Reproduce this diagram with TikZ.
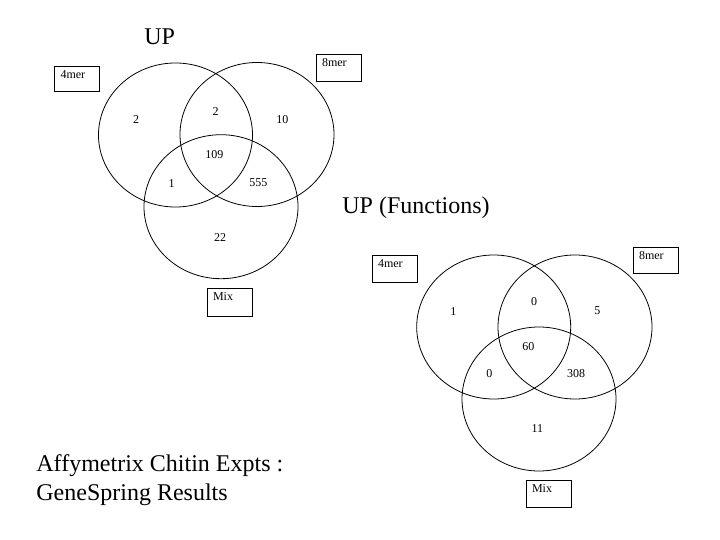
\documentclass[tikz,border=0pt]{standalone}
\usepackage{fontspec}
\setmainfont{Liberation Serif}
\usetikzlibrary{shapes.geometric}
\begin{document}
\begin{tikzpicture}[x=1pt,y=-1pt,line width=0.8pt,
  venn/.style={draw, ellipse, minimum width=154pt, minimum height=144pt, inner sep=0pt},
  num/.style={font=\fontsize{12}{14}\selectfont, inner sep=0pt},
  setbox/.style={draw, minimum width=45pt, minimum height=#1, inner sep=0pt},
  boxtext/.style={anchor=north west, inner sep=0pt, xshift=6pt, yshift=-5pt, font=\fontsize{12}{14}\selectfont},
  title/.style={font=\fontsize{24}{28}\selectfont, inner sep=0pt, anchor=base west}]
\useasboundingbox (0,0) rectangle (720,540);

% ---- UP ----
\node[title] (t1) at (144,45) {UP};
\node[venn] (a4) at (175.5,135) {};
\node[venn] (a8) at (257,134.5) {};
\node[venn] (am) at (221,206.7) {};
\node[setbox=25pt, label={[boxtext]north west:4mer}] (b4) at (77,78.5) {};
\node[setbox=27pt, label={[boxtext]north west:8mer}] (b8) at (338.5,67.5) {};
\node[setbox=28pt, label={[boxtext]north west:Mix}] (bm) at (229.5,302) {};
\node[num] (n1) at (136,120) {2};
\node[num] (n2) at (215.7,111.7) {2};
\node[num] (n3) at (282.3,119.3) {10};
\node[num] (n4) at (214.3,155) {109};
\node[num] (n5) at (171.7,183.3) {1};
\node[num] (n6) at (258.3,182.3) {555};
\node[num] (n7) at (220,237.3) {22};

% ---- UP (Functions) ----
\node[title] (t2) at (342,214) {UP (Functions)};
\node[venn] (c4) at (493.7,327) {};
\node[venn] (c8) at (575,327) {};
\node[venn] (cm) at (539,399) {};
\node[setbox=27pt, label={[boxtext]north west:4mer}] (d4) at (394.5,268.5) {};
\node[setbox=26pt, label={[boxtext]north west:8mer}] (d8) at (655.5,260) {};
\node[setbox=27pt, label={[boxtext]north west:Mix}] (dm) at (548.5,493.5) {};
\node[num] (m1) at (453.3,311.7) {1};
\node[num] (m2) at (534,301.7) {0};
\node[num] (m3) at (597.3,310.7) {5};
\node[num] (m4) at (528.3,346.7) {60};
\node[num] (m5) at (489.3,373.3) {0};
\node[num] (m6) at (576,373.3) {308};
\node[num] (m7) at (537.3,428.3) {11};

% ---- caption ----
\node[title] (cap1) at (36,471) {Affymetrix Chitin Expts :};
\node[title] (cap2) at (36,500) {GeneSpring Results};
\end{tikzpicture}
\end{document}
